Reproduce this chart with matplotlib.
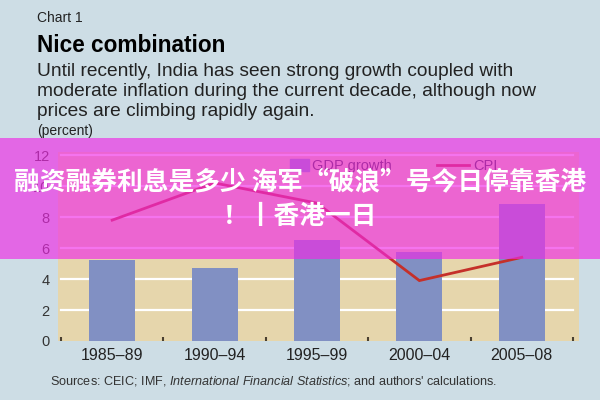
import numpy as np
import matplotlib
matplotlib.use("Agg")
import matplotlib.pyplot as plt
from matplotlib.patches import Rectangle, Patch
from matplotlib.lines import Line2D

# Data
periods = ["1985–89", "1990–94", "1995–99", "2000–04", "2005–08"]
gdp_growth = [5.2, 4.7, 6.5, 5.75, 8.85]
cpi = [7.8, 10.2, 8.9, 3.9, 5.4]
yticks = [0, 2, 4, 6, 8, 10, 12]

bg = "#cddde5"
plotbg = "#e6d6ac"
barcolor = "#8190c3"
linecolor = "#c5302a"
textcolor = "#222222"

plt.rcParams['font.family'] = ['Liberation Sans', 'DejaVu Sans']
plt.rcParams['mathtext.fontset'] = 'custom'
plt.rcParams['mathtext.it'] = 'Liberation Sans:italic'
plt.rcParams['mathtext.rm'] = 'Liberation Sans'

fig = plt.figure(figsize=(6, 4), dpi=100, facecolor=bg)
ax = fig.add_axes([58 / 600, 59 / 400, 521 / 600, 189 / 400])
ax.set_facecolor(plotbg)

x = np.arange(len(periods))

## gridlines
for y in yticks[1:]:
    ax.plot([-0.5, 4.5], [y, y], color="white", lw=1.6, zorder=1)

## bars and line
ax.bar(x, gdp_growth, width=0.45, color=barcolor, zorder=2)
ax.plot(x, cpi, color=linecolor, lw=2, zorder=3, solid_joinstyle="miter")

ax.set_xlim(-0.529, 4.559)
ax.set_ylim(0, 12.2)
for s in ax.spines.values():
    s.set_visible(False)

ax.set_xticks(x)
ax.set_xticklabels(periods, fontsize=11.5, color=textcolor)
ax.set_xticks(np.arange(-0.5, 5, 1), minor=True)
ax.tick_params(axis="x", which="major", length=0, pad=5)
ax.tick_params(axis="x", which="minor", direction="in", length=3, width=1.5, color="#4a4030")
ax.set_yticks(yticks)
ax.set_yticklabels([str(v) for v in yticks], fontsize=10.5, color="#333333")
ax.tick_params(axis="y", length=0, pad=6)

## legends
leg1 = ax.legend([Patch(color=barcolor)], ["GDP growth"], loc="upper left",
                 bbox_to_anchor=(0.445, 0.965), frameon=False, fontsize=10.5,
                 handlelength=1.3, handleheight=0.9, borderpad=0, borderaxespad=0,
                 handletextpad=0.25, labelcolor="#333333")
ax.add_artist(leg1)
ax.legend([Line2D([0], [0], color=linecolor, lw=2)], ["CPI"], loc="upper left",
          bbox_to_anchor=(0.728, 0.965), frameon=False, fontsize=10.5,
          handlelength=2.2, borderpad=0, borderaxespad=0,
          handletextpad=0.3, labelcolor="#333333")

## header text
fig.text(37 / 600, 1 - 18 / 400, "Chart 1", fontsize=10, color=textcolor, va="center")
fig.text(37 / 600, 1 - 46 / 400, "Nice combination", fontsize=16.3, fontweight="bold",
         color="black", va="center")
sub = ["Until recently, India has seen strong growth coupled with",
       "moderate inflation during the current decade, although now",
       "prices are climbing rapidly again."]
for i, line in enumerate(sub):
    fig.text(37 / 600, 1 - (72 + 20 * i) / 400, line, fontsize=13.8, color=textcolor, va="center")
fig.text(37 / 600, 1 - 131 / 400, "(percent)", fontsize=10, color=textcolor, va="center")

## sources
fig.text(50 / 600, 1 - 381 / 400,
         "Sources: CEIC; IMF, $\\it{International\\ Financial\\ Statistics}$; and authors' calculations.",
         fontsize=9.1, color="#333333", va="center")

## overlay banner
fig.add_artist(Rectangle((0, 141 / 400), 1, 121 / 400, transform=fig.transFigure,
                         facecolor=(240 / 255, 40 / 255, 230 / 255), alpha=0.65,
                         edgecolor="none", zorder=10))
cjk = ['Noto Sans CJK SC', 'DejaVu Sans']
fig.text(0.5, 1 - 183 / 400, "融资融券利息是多少 海军“破浪”号今日停靠香港", family=cjk,
         fontsize=18.5, fontweight="bold", color="white", ha="center", va="center", zorder=11)
fig.text(0.5, 1 - 217 / 400, "！丨香港一日", family=cjk,
         fontsize=18.5, fontweight="bold", color="white", ha="center", va="center", zorder=11)

fig.savefig("out.png", dpi=100, facecolor=bg)
